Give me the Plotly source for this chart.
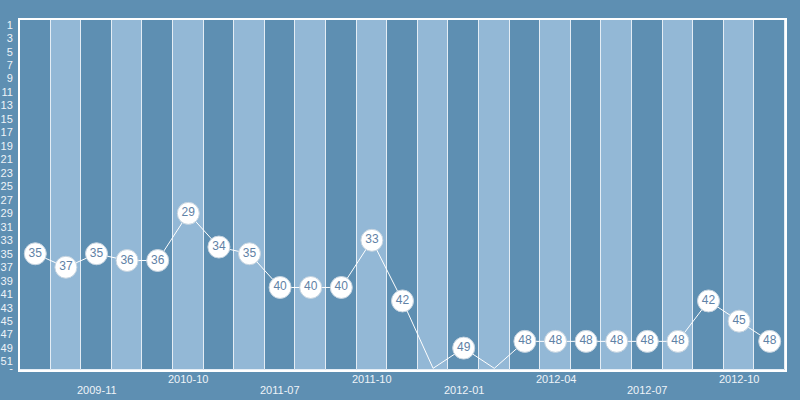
import plotly.graph_objects as go

months = ['2009-09','2009-10','2009-11','2010-01','2010-04','2010-10','2011-01','2011-04',
          '2011-07','2011-08','2011-09','2011-10','2011-11','2011-12','2012-01','2012-02',
          '2012-03','2012-04','2012-05','2012-06','2012-07','2012-08','2012-09','2012-10','2012-11']
ranks = [35,37,35,36,36,29,34,35,40,40,40,33,42,None,49,None,48,48,48,48,48,48,42,45,48]
missing_rank = 52
y_ticks = list(range(1, 52, 2)) + [52]
y_ticktext = [str(v) for v in range(1, 52, 2)] + ['-']
shown_labels = ['2009-11','2010-10','2011-07','2011-10','2012-01','2012-04','2012-07','2012-10']

BG = '#5e8fb2'
LIGHT = '#93b8d6'
y_lo, y_hi = 0.3, 52.25

fig = go.Figure()

band_colors = [BG if i % 2 == 0 else LIGHT for i in range(len(months))]
fig.add_trace(go.Bar(
    x=months, y=[y_hi - y_lo] * len(months), base=y_lo,
    marker=dict(color=band_colors, line=dict(color='#e4edf5', width=1)),
    width=1, hoverinfo='skip', showlegend=False))

line_y = [r if r is not None else missing_rank for r in ranks]
fig.add_trace(go.Scatter(
    x=months, y=line_y, mode='lines',
    line=dict(color='white', width=1), hoverinfo='skip', showlegend=False))

mx = [m for m, r in zip(months, ranks) if r is not None]
my = [r for r in ranks if r is not None]
fig.add_trace(go.Scatter(
    x=mx, y=my, mode='markers+text', text=[str(v) for v in my],
    textposition='middle center',
    textfont=dict(family='Liberation Sans, Arial', size=12, color='#5f82a6'),
    marker=dict(size=22, color='white', line=dict(color='#c5d3df', width=1)),
    showlegend=False))

for i, m in enumerate(months):
    if m in shown_labels:
        k = shown_labels.index(m)
        fig.add_annotation(
            x=m, xref='x', y=0, yref='paper',
            yshift=-9 if k % 2 == 1 else -20, yanchor='middle',
            text=m, showarrow=False,
            font=dict(family='Liberation Sans, Arial', size=11, color='#eef3f8'))

fig.update_layout(
    width=800, height=400,
    paper_bgcolor=BG, plot_bgcolor=BG,
    margin=dict(l=20, r=15, t=20, b=30, autoexpand=False),
    bargap=0,
    xaxis=dict(type='category', showticklabels=False, showgrid=False, zeroline=False,
               range=[-0.5, len(months) - 0.5], automargin=False,
               showline=True, linecolor='white', linewidth=2, mirror=True),
    yaxis=dict(range=[y_hi, y_lo], tickvals=y_ticks, ticktext=y_ticktext,
               showgrid=False, zeroline=False, automargin=False,
               showline=True, linecolor='white', linewidth=2, mirror=True,
               ticks='', ticklabelstandoff=3,
               tickfont=dict(family='Liberation Sans, Arial', size=11, color='#eef3f8')),
)

fig.write_html('out.html', config={'displayModeBar': False},
               post_script="document.body.style.margin='0';document.body.style.background='%s';" % BG)
